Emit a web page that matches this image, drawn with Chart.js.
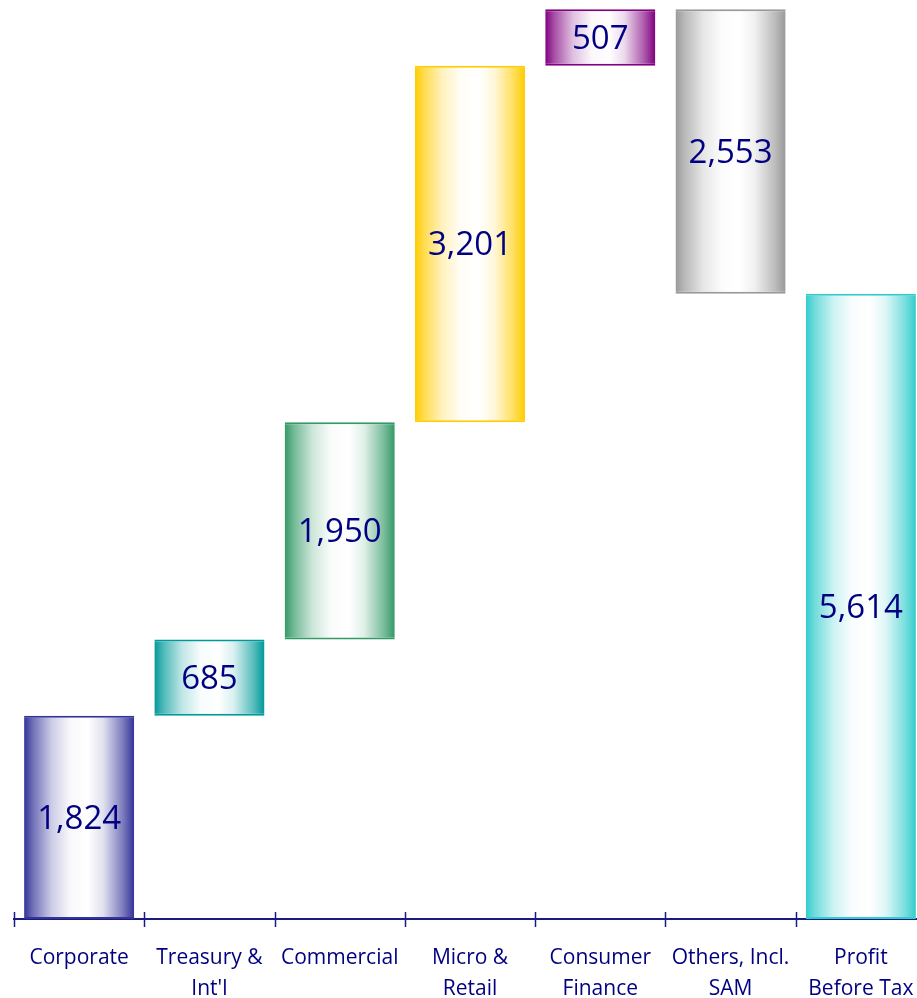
<!DOCTYPE html>
<html>
<head>
<meta charset="utf-8">
<title>Profit Before Tax by Segment</title>
<script src="https://cdn.jsdelivr.net/npm/chart.js@4/dist/chart.umd.min.js"></script>
<style>
  html, body { margin: 0; padding: 0; background: #fff; overflow: hidden; }
  #wrap { width: 926px; height: 998px; }
</style>
</head>
<body>
<div id="wrap"><canvas id="chartLaba" width="926" height="998"></canvas></div>
<script>
// segment contributions (Rp bn), last one is the total
const segments = [["Corporate"], ["Treasury &", "Int'l"], ["Commercial"], ["Micro &", "Retail"], ["Consumer", "Finance"], ["Others, Incl.", "SAM"], ["Profit", "Before Tax"]];
const values = [1824, 685, 1950, 3201, 507, -2553, 5614];
const isTotal = [false, false, false, false, false, false, true];
const barColors = ["#333399", "#009999", "#339966", "#ffcc00", "#800080", "#999999", "#33cccc"];

const BAR_PCT = 0.845;

// floating bars: [start, end] from running sum
let running = 0;
const floating = values.map(function (v, i) {
    if (isTotal[i]) return [0, v];
    const start = running;
    running += v;
    return [start, running];
});

function mix(hex, t) {
    const r = parseInt(hex.substr(1, 2), 16), g = parseInt(hex.substr(3, 2), 16), b = parseInt(hex.substr(5, 2), 16);
    const m = function (c) { return Math.round(c + (255 - c) * t); };
    return "rgb(" + m(r) + "," + m(g) + "," + m(b) + ")";
}

// cylinder look: dark edges, wide white band slightly right of center
function cylinder(context) {
    const chart = context.chart;
    const color = barColors[context.dataIndex];
    const xs = chart.scales.x;
    if (!xs || context.dataIndex === undefined) return color;
    const cx = xs.getPixelForValue(context.dataIndex);
    const half = (xs.getPixelForValue(1) - xs.getPixelForValue(0)) * BAR_PCT / 2;
    if (!isFinite(cx) || !isFinite(half) || half <= 0) return color;
    const g = chart.ctx.createLinearGradient(cx - half, 0, cx + half, 0);
    g.addColorStop(0, color);
    g.addColorStop(0.08, mix(color, 0.3));
    g.addColorStop(0.25, mix(color, 0.75));
    g.addColorStop(0.42, mix(color, 0.97));
    g.addColorStop(0.58, "#ffffff");
    g.addColorStop(0.72, mix(color, 0.85));
    g.addColorStop(0.9, mix(color, 0.35));
    g.addColorStop(1, color);
    return g;
}

const valueLabels = {
    id: "valueLabels",
    afterDatasetsDraw: function (chart) {
        const ctx = chart.ctx;
        const meta = chart.getDatasetMeta(0);
        ctx.save();
        ctx.font = "33px 'Open Sans'";
        ctx.fillStyle = "#000080";
        ctx.textAlign = "center";
        ctx.textBaseline = "middle";
        meta.data.forEach(function (bar, i) {
            const mid = (bar.y + bar.base) / 2;
            ctx.fillText(Math.abs(values[i]).toLocaleString("en-US"), bar.x, mid + 2);
        });
        ctx.restore();
    }
};

// short tick marks crossing the axis at category boundaries
const crossTicks = {
    id: "crossTicks",
    afterDraw: function (chart) {
        const xs = chart.scales.x;
        const ctx = chart.ctx;
        const half = (xs.getPixelForValue(1) - xs.getPixelForValue(0)) / 2;
        const y = chart.chartArea.bottom;
        ctx.save();
        ctx.strokeStyle = "#1a1a80";
        ctx.lineWidth = 1.5;
        for (let i = 0; i <= segments.length; i++) {
            const x = Math.round(xs.getPixelForValue(i) - half) + 0.5;
            ctx.beginPath();
            ctx.moveTo(x, y - 7);
            ctx.lineTo(x, y + 8);
            ctx.stroke();
        }
        ctx.restore();
    }
};

new Chart(document.getElementById("chartLaba"), {
    type: "bar",
    data: {
        labels: segments,
        datasets: [{
            data: floating,
            backgroundColor: cylinder,
            borderColor: barColors,
            borderWidth: { top: 2, bottom: 2, left: 0, right: 0 },
            borderSkipped: false,
            categoryPercentage: 1,
            barPercentage: BAR_PCT
        }]
    },
    options: {
        responsive: false,
        animation: false,
        layout: { padding: { left: 14, right: 0, top: 0, bottom: 0 } },
        plugins: { legend: { display: false }, tooltip: { enabled: false } },
        scales: {
            x: {
                grid: { display: false, drawTicks: false },
                border: { display: true, color: "#1a1a80", width: 2 },
                ticks: {
                    color: "#000080",
                    font: { family: "'Open Sans'", size: 21, lineHeight: 1.45 },
                    padding: 24,
                    maxRotation: 0,
                    autoSkip: false
                },
                afterFit: function (scale) {
                    scale.height = 79;
                    scale.paddingLeft = 0;
                    scale.paddingRight = 0;
                }
            },
            y: {
                display: false,
                min: 0,
                max: 8250
            }
        }
    },
    plugins: [valueLabels, crossTicks]
});
</script>
</body>
</html>
